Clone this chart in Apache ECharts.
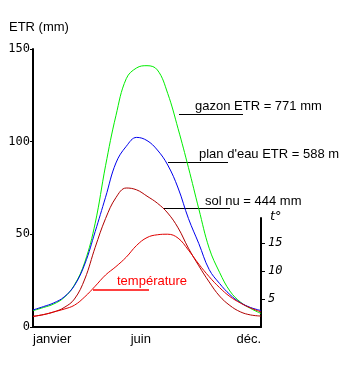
<!DOCTYPE html>
<html>
<head>
<meta charset="utf-8">
<script src="https://cdn.jsdelivr.net/npm/echarts@6/dist/echarts.min.js"></script>
<style>
html,body{margin:0;padding:0;background:#fff;}
#chart{width:359px;height:372px;}
</style>
</head>
<body>
<div id="chart"></div>
<script>
// Month position (0 = janvier, 11 = déc.), sampled every half month
var monthPos = [0, 0.5, 1, 1.5, 2, 2.5, 3, 3.5, 4, 4.5, 5, 5.5, 6, 6.5, 7, 7.5, 8, 8.5, 9, 9.5, 10, 10.5, 11];
// ETR (mm)
var gazon    = [8.8, 10.5, 12.4, 15.9, 22.7, 35, 56, 87, 114, 134, 139.8, 141, 138.7, 126, 107, 86, 63.7, 42.5, 29.5, 19.4, 13.5, 10, 7.3];
var planEau  = [9.2, 11, 13, 16.2, 22.4, 34, 51.5, 70, 88.5, 97.5, 102.3, 100.6, 95.5, 87.4, 75, 58.5, 45, 31, 23.5, 17.5, 13.2, 10.5, 8.9];
var solNu    = [5.7, 6.7, 8.1, 10.5, 15.1, 25.9, 43, 58.5, 69.8, 75, 74.0, 70.6, 66.8, 61.5, 53.5, 42.5, 33, 24.3, 16.7, 11.6, 8.2, 6.5, 5.9];
// Température (°C)
var temperature = [1.9, 2.2, 2.7, 3.2, 3.9, 5.4, 7.3, 9.3, 10.8, 12.5, 14.6, 16.0, 16.5, 16.6, 15.9, 13.75, 11.25, 9.0, 7.05, 5.45, 4.3, 3.4, 2.7];
// tick labels
var xTickLabels = ['janvier', 'juin', 'déc.'];
var xTickPos = [0, 5.2, 11];
var etrTicks = [0, 50, 100, 150];
var tempTicks = [5, 10, 15];
var annotations = ['gazon ETR = 771 mm', "plan d'eau ETR = 588 m", 'sol nu = 444 mm', 'température'];

function pairs(ys) { return monthPos.map(function (x, i) { return [x, ys[i]]; }); }

var chart = echarts.init(document.getElementById('chart'), null, {renderer: 'canvas'});
var txt = {fontFamily: 'Liberation Sans, Arial, sans-serif', fontSize: 13, fill: '#000'};

chart.setOption({
  animation: false,
  backgroundColor: '#fff',
  grid: [
    {left: 33, right: 98, top: 49, bottom: 45},
    {left: 33, right: 98, top: 218, bottom: 45}
  ],
  xAxis: [
    {
      type: 'value', gridIndex: 0, min: 0, max: 11,
      axisLine: {show: true, onZero: false, lineStyle: {color: '#000', width: 2}},
      axisTick: {show: false}, splitLine: {show: false},
      axisLabel: {
        customValues: xTickPos,
        formatter: function (v) {
          var best = 0;
          for (var i = 0; i < xTickPos.length; i++) if (Math.abs(xTickPos[i] - v) < Math.abs(xTickPos[best] - v)) best = i;
          return xTickLabels[best];
        },
        alignMinLabel: 'left', alignMaxLabel: 'right',
        margin: 6, color: '#000', fontSize: 13, fontFamily: 'Liberation Sans, Arial, sans-serif'
      }
    },
    {type: 'value', gridIndex: 1, min: 0, max: 11, show: false}
  ],
  yAxis: [
    {
      type: 'value', gridIndex: 0, min: 0, max: 150, interval: 50,
      axisLine: {show: true, onZero: false, lineStyle: {color: '#000', width: 2}},
      axisTick: {show: true, length: 3, lineStyle: {color: '#000'}},
      splitLine: {show: false},
      axisLabel: {customValues: etrTicks, margin: 3, color: '#000', fontSize: 12, fontFamily: 'DejaVu Sans Mono, monospace'}
    },
    {
      type: 'value', gridIndex: 1, position: 'right', min: 0, max: 19.5,
      axisLine: {show: true, onZero: false, lineStyle: {color: '#000', width: 2}},
      axisTick: {show: true, customValues: tempTicks, length: 4, lineStyle: {color: '#000'}},
      splitLine: {show: false},
      axisLabel: {customValues: tempTicks, margin: 7, color: '#000', fontSize: 12, fontStyle: 'italic', fontFamily: 'DejaVu Sans Mono, monospace'}
    }
  ],
  series: [
    {type: 'line', name: 'gazon', xAxisIndex: 0, yAxisIndex: 0, data: pairs(gazon), smooth: 0.4, symbol: 'none', lineStyle: {color: '#00ee00', width: 1}},
    {type: 'line', name: "plan d'eau", xAxisIndex: 0, yAxisIndex: 0, data: pairs(planEau), smooth: 0.4, symbol: 'none', lineStyle: {color: '#0000ee', width: 1}},
    {type: 'line', name: 'sol nu', xAxisIndex: 0, yAxisIndex: 0, data: pairs(solNu), smooth: 0.4, symbol: 'none', lineStyle: {color: '#b00000', width: 1}},
    {type: 'line', name: 'température', xAxisIndex: 1, yAxisIndex: 1, data: pairs(temperature), smooth: 0.4, symbol: 'none', lineStyle: {color: '#e00000', width: 1}}
  ],
  graphic: [
    {type: 'text', left: 9, top: 21, style: Object.assign({}, txt, {text: 'ETR (mm)'})},
    {type: 'text', x: 270, y: 217, style: Object.assign({}, txt, {text: 't°', fontStyle: 'italic', verticalAlign: 'middle', fontFamily: 'DejaVu Sans, sans-serif', fontSize: 13})},
    {type: 'text', x: 195, y: 106.5, style: Object.assign({}, txt, {text: annotations[0], verticalAlign: 'middle'})},
    {type: 'line', shape: {x1: 179, y1: 114.5, x2: 243, y2: 114.5}, style: {stroke: '#000', lineWidth: 1}},
    {type: 'text', x: 199, y: 154.5, style: Object.assign({}, txt, {text: annotations[1], verticalAlign: 'middle'})},
    {type: 'line', shape: {x1: 168, y1: 162.5, x2: 228, y2: 162.5}, style: {stroke: '#000', lineWidth: 1}},
    {type: 'text', x: 205, y: 201, style: Object.assign({}, txt, {text: annotations[2], verticalAlign: 'middle'})},
    {type: 'line', shape: {x1: 164, y1: 208.5, x2: 230, y2: 208.5}, style: {stroke: '#000', lineWidth: 1}},
    {type: 'text', x: 117, y: 281.5, style: Object.assign({}, txt, {text: annotations[3], verticalAlign: 'middle', fill: '#ff0000'})},
    {type: 'line', shape: {x1: 93, y1: 290, x2: 149, y2: 290}, style: {stroke: '#ff0000', lineWidth: 1.5}}
  ]
});
</script>
</body>
</html>
